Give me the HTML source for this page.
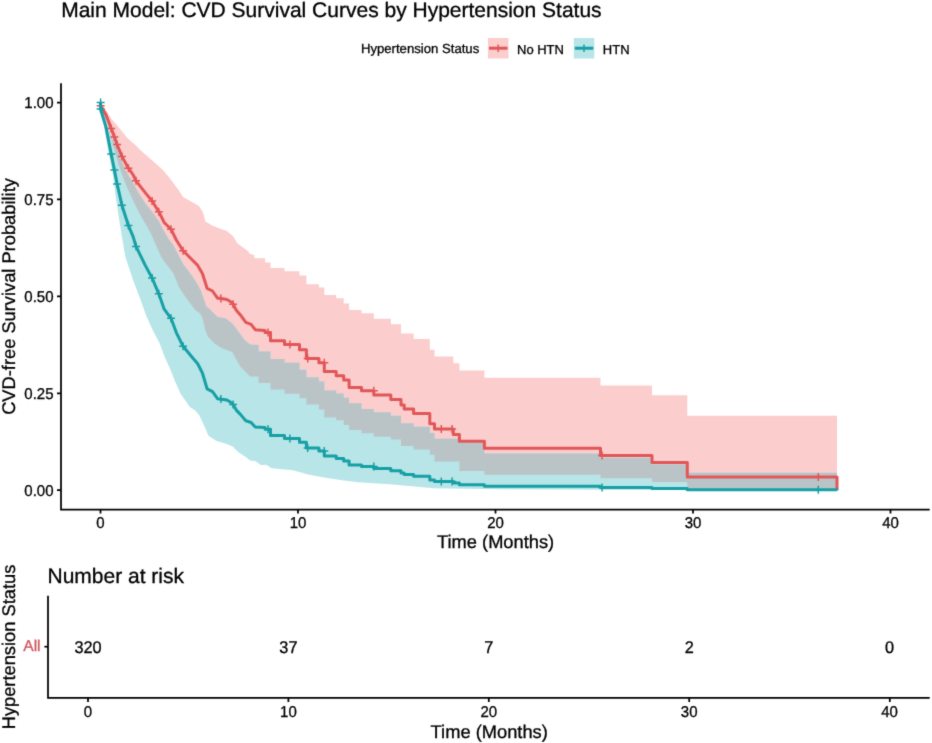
<!DOCTYPE html>
<html><head><meta charset="utf-8">
<style>
html,body{margin:0;padding:0;background:#fff;}
svg{display:block;font-family:"Liberation Sans",sans-serif;text-rendering:geometricPrecision;}
text{stroke-width:0.30px;}
</style></head>
<body>
<svg width="932" height="743" viewBox="0 0 932 743">
<defs><filter id="soft" filterUnits="userSpaceOnUse" x="0" y="0" width="932" height="743" color-interpolation-filters="sRGB"><feConvolveMatrix order="3" kernelMatrix="0.02 0.08 0.02 0.08 0.6 0.08 0.02 0.08 0.02" edgeMode="duplicate"/></filter></defs>
<rect width="932" height="743" fill="#fff"/>
<g filter="url(#soft)">
<text transform="translate(61.20 17.20)" font-size="21.00" fill="#000" stroke="#000">Main Model: CVD Survival Curves by Hypertension Status</text>
<text transform="translate(360.90 53.40)" font-size="13.15" fill="#000" stroke="#000">Hypertension Status</text>
<rect x="488" y="38" width="20.5" height="20.5" fill="rgb(251,205,205)"/>
<path d="M489 48.2H507.5" stroke="rgb(226,86,88)" stroke-width="3" fill="none"/><path d="M498.2 44.4V52" stroke="rgb(226,86,88)" stroke-width="1.5" fill="none"/>
<text transform="translate(517.00 53.50)" font-size="13.00" fill="#000" stroke="#000">No HTN</text>
<rect x="573.8" y="38" width="20.5" height="20.5" fill="rgb(184,229,232)"/>
<path d="M574.8 48.2H593.3" stroke="rgb(22,160,165)" stroke-width="3" fill="none"/><path d="M584 44.4V52" stroke="rgb(22,160,165)" stroke-width="1.5" fill="none"/>
<text transform="translate(602.80 53.50)" font-size="13.00" fill="#000" stroke="#000">HTN</text>
<g id="curves">
<defs><clipPath id="rb"><path d="M100.5 102.5L105.8 110.1L112.2 119.8L118.7 127.3L127.3 138.1L134.8 144.5L141.3 151.0L148.8 157.4L157.4 165.0L162.9 170.0L169.6 178.1L177.7 188.8L183.1 196.9L192.5 202.3L199.2 206.3L203.2 213.1L205.4 221.5L212.1 225.6L218.8 228.3L226.9 231.0L233.3 236.5L237.3 243.3L248.1 251.3L250.0 254.0L254.3 255.1L254.3 258.3L264.6 258.3L265.1 258.3L265.1 262.6L270.5 262.6L270.5 268.0L284.5 268.0L284.5 271.2L299.5 271.2L299.5 275.5L306.4 275.5L306.4 284.2L318.9 284.2L318.9 287.4L324.3 287.4L324.3 294.9L336.2 294.9L336.2 298.2L343.7 298.2L343.7 303.5L349.1 303.5L349.1 310.0L361.5 310.0L361.5 313.2L373.8 313.2L373.8 318.8L390.8 318.8L390.8 324.2L401.0 324.2L401.0 333.6L404.2 333.6L404.2 333.6L413.6 333.6L413.6 339.0L429.8 339.0L429.8 349.8L434.5 349.8L434.5 356.5L453.3 356.5L453.3 363.2L459.4 363.2L459.4 370.5L484.4 370.5L484.4 377.8L600.5 377.8L600.5 385.6L652.0 385.6L652.0 395.2L687.3 395.2L687.3 415.7L837.0 415.7L837.0 490.0L687.3 490.0L687.3 482.0L652.0 482.0L652.0 478.3L600.5 478.3L600.5 474.7L484.4 474.7L484.4 470.9L459.4 470.9L459.4 461.4L453.3 461.4L453.3 461.4L434.5 461.4L434.5 454.7L429.8 454.7L429.8 449.5L413.6 449.5L413.6 446.0L404.2 446.0L404.2 446.0L401.0 446.0L401.0 439.5L390.8 439.5L390.8 436.8L373.8 436.8L373.8 433.2L361.5 433.2L361.5 430.0L349.1 430.0L349.1 425.0L343.7 425.0L343.7 420.3L336.2 420.3L336.2 417.5L324.3 417.5L324.3 409.5L318.9 409.5L318.9 404.6L306.4 404.6L306.4 398.2L299.5 398.2L299.5 393.8L284.5 393.8L284.5 389.5L270.5 389.5L270.5 383.1L265.1 383.1L265.1 383.1L264.6 383.1L258.6 383.1L258.6 376.6L250.0 376.6L245.8 372.1L240.4 366.7L235.0 357.3L232.3 351.9L221.5 347.9L214.8 343.8L208.1 337.1L205.4 330.4L202.5 318.0L200.0 313.5L195.0 309.8L186.9 299.0L178.8 286.9L173.5 273.5L165.4 263.0L161.5 257.5L156.1 245.4L150.8 233.3L145.4 223.8L140.0 214.4L133.3 201.0L126.5 186.2L121.0 172.0L118.1 163.0L114.9 151.0L110.0 135.0L105.8 119.5L100.6 107.0L100.5 102.5Z"/></clipPath></defs>
<path d="M100.5 102.5L105.8 110.1L112.2 119.8L118.7 127.3L127.3 138.1L134.8 144.5L141.3 151.0L148.8 157.4L157.4 165.0L162.9 170.0L169.6 178.1L177.7 188.8L183.1 196.9L192.5 202.3L199.2 206.3L203.2 213.1L205.4 221.5L212.1 225.6L218.8 228.3L226.9 231.0L233.3 236.5L237.3 243.3L248.1 251.3L250.0 254.0L254.3 255.1L254.3 258.3L264.6 258.3L265.1 258.3L265.1 262.6L270.5 262.6L270.5 268.0L284.5 268.0L284.5 271.2L299.5 271.2L299.5 275.5L306.4 275.5L306.4 284.2L318.9 284.2L318.9 287.4L324.3 287.4L324.3 294.9L336.2 294.9L336.2 298.2L343.7 298.2L343.7 303.5L349.1 303.5L349.1 310.0L361.5 310.0L361.5 313.2L373.8 313.2L373.8 318.8L390.8 318.8L390.8 324.2L401.0 324.2L401.0 333.6L404.2 333.6L404.2 333.6L413.6 333.6L413.6 339.0L429.8 339.0L429.8 349.8L434.5 349.8L434.5 356.5L453.3 356.5L453.3 363.2L459.4 363.2L459.4 370.5L484.4 370.5L484.4 377.8L600.5 377.8L600.5 385.6L652.0 385.6L652.0 395.2L687.3 395.2L687.3 415.7L837.0 415.7L837.0 490.0L687.3 490.0L687.3 482.0L652.0 482.0L652.0 478.3L600.5 478.3L600.5 474.7L484.4 474.7L484.4 470.9L459.4 470.9L459.4 461.4L453.3 461.4L453.3 461.4L434.5 461.4L434.5 454.7L429.8 454.7L429.8 449.5L413.6 449.5L413.6 446.0L404.2 446.0L404.2 446.0L401.0 446.0L401.0 439.5L390.8 439.5L390.8 436.8L373.8 436.8L373.8 433.2L361.5 433.2L361.5 430.0L349.1 430.0L349.1 425.0L343.7 425.0L343.7 420.3L336.2 420.3L336.2 417.5L324.3 417.5L324.3 409.5L318.9 409.5L318.9 404.6L306.4 404.6L306.4 398.2L299.5 398.2L299.5 393.8L284.5 393.8L284.5 389.5L270.5 389.5L270.5 383.1L265.1 383.1L265.1 383.1L264.6 383.1L258.6 383.1L258.6 376.6L250.0 376.6L245.8 372.1L240.4 366.7L235.0 357.3L232.3 351.9L221.5 347.9L214.8 343.8L208.1 337.1L205.4 330.4L202.5 318.0L200.0 313.5L195.0 309.8L186.9 299.0L178.8 286.9L173.5 273.5L165.4 263.0L161.5 257.5L156.1 245.4L150.8 233.3L145.4 223.8L140.0 214.4L133.3 201.0L126.5 186.2L121.0 172.0L118.1 163.0L114.9 151.0L110.0 135.0L105.8 119.5L100.6 107.0L100.5 102.5Z" fill="rgb(251,205,205)"/>
<path d="M100.5 102.5L104.2 111.0L107.9 127.3L111.2 137.0L116.0 145.6L120.8 159.6L126.5 172.0L131.9 180.8L138.6 192.9L145.4 203.6L152.1 211.7L158.8 221.1L162.9 229.2L168.3 238.6L173.6 245.4L179.0 256.1L183.1 264.0L188.3 270.8L195.0 280.2L200.4 289.6L204.4 300.4L206.1 306.2L209.4 308.8L213.5 312.9L217.5 316.9L225.6 318.3L232.3 323.6L237.7 330.4L244.4 339.8L250.0 344.5L258.6 345.0L258.6 351.5L264.6 351.5L265.1 351.5L265.1 351.5L270.5 351.5L270.5 359.0L284.5 359.0L284.5 362.7L299.5 362.7L299.5 369.7L306.4 369.7L306.4 377.2L318.9 377.2L318.9 381.5L324.3 381.5L324.3 390.4L336.2 390.4L336.2 393.6L343.7 393.6L343.7 397.8L349.1 397.8L349.1 403.3L361.5 403.3L361.5 409.0L373.8 409.0L373.8 412.3L390.8 412.3L390.8 415.7L401.0 415.7L401.0 423.2L404.2 423.2L404.2 423.2L413.6 423.2L413.6 426.8L429.8 426.8L429.8 433.0L434.5 433.0L434.5 438.8L453.3 438.8L453.3 438.8L459.4 438.8L459.4 442.6L484.4 442.6L484.4 453.6L600.5 453.6L600.5 457.7L652.0 457.7L652.0 464.6L687.3 464.6L687.3 472.7L837.0 472.7L837.0 490.1L600.0 489.8L500.0 489.3L433.8 488.3L390.0 484.3L357.7 482.2L340.5 480.0L325.4 477.8L308.2 474.6L293.0 470.3L271.5 468.2L266.3 464.7L260.8 464.9L255.6 461.3L250.0 460.6L246.1 457.3L238.1 451.9L232.7 446.5L226.0 443.8L216.5 441.1L208.5 435.8L204.4 426.3L199.4 415.4L195.0 410.2L190.0 407.3L180.6 393.8L175.2 381.7L169.8 368.3L164.4 356.2L159.5 343.0L153.3 331.3L146.5 316.5L139.8 297.7L133.1 280.2L127.1 262.0L125.2 256.1L122.5 240.0L119.8 223.8L115.8 196.9L112.6 172.0L110.0 159.6L107.9 148.8L104.5 128.0L101.5 108.0L100.5 102.5Z" fill="rgb(184,229,232)"/>
<path d="M100.5 102.5L104.2 111.0L107.9 127.3L111.2 137.0L116.0 145.6L120.8 159.6L126.5 172.0L131.9 180.8L138.6 192.9L145.4 203.6L152.1 211.7L158.8 221.1L162.9 229.2L168.3 238.6L173.6 245.4L179.0 256.1L183.1 264.0L188.3 270.8L195.0 280.2L200.4 289.6L204.4 300.4L206.1 306.2L209.4 308.8L213.5 312.9L217.5 316.9L225.6 318.3L232.3 323.6L237.7 330.4L244.4 339.8L250.0 344.5L258.6 345.0L258.6 351.5L264.6 351.5L265.1 351.5L265.1 351.5L270.5 351.5L270.5 359.0L284.5 359.0L284.5 362.7L299.5 362.7L299.5 369.7L306.4 369.7L306.4 377.2L318.9 377.2L318.9 381.5L324.3 381.5L324.3 390.4L336.2 390.4L336.2 393.6L343.7 393.6L343.7 397.8L349.1 397.8L349.1 403.3L361.5 403.3L361.5 409.0L373.8 409.0L373.8 412.3L390.8 412.3L390.8 415.7L401.0 415.7L401.0 423.2L404.2 423.2L404.2 423.2L413.6 423.2L413.6 426.8L429.8 426.8L429.8 433.0L434.5 433.0L434.5 438.8L453.3 438.8L453.3 438.8L459.4 438.8L459.4 442.6L484.4 442.6L484.4 453.6L600.5 453.6L600.5 457.7L652.0 457.7L652.0 464.6L687.3 464.6L687.3 472.7L837.0 472.7L837.0 490.1L600.0 489.8L500.0 489.3L433.8 488.3L390.0 484.3L357.7 482.2L340.5 480.0L325.4 477.8L308.2 474.6L293.0 470.3L271.5 468.2L266.3 464.7L260.8 464.9L255.6 461.3L250.0 460.6L246.1 457.3L238.1 451.9L232.7 446.5L226.0 443.8L216.5 441.1L208.5 435.8L204.4 426.3L199.4 415.4L195.0 410.2L190.0 407.3L180.6 393.8L175.2 381.7L169.8 368.3L164.4 356.2L159.5 343.0L153.3 331.3L146.5 316.5L139.8 297.7L133.1 280.2L127.1 262.0L125.2 256.1L122.5 240.0L119.8 223.8L115.8 196.9L112.6 172.0L110.0 159.6L107.9 148.8L104.5 128.0L101.5 108.0L100.5 102.5Z" fill="rgb(186,196,199)" clip-path="url(#rb)"/>
<path d="M100.5 102.5L100.6 105.8L105.8 114.4L111.2 128.4L114.4 137.0L117.1 144.5L121.9 156.4L128.4 168.2L133.2 175.0L136.0 180.8L145.4 192.9L152.1 201.0L158.8 211.7L164.2 222.5L171.0 229.2L176.3 240.0L183.1 250.8L191.1 258.8L197.7 265.4L202.4 273.5L207.1 288.3L212.5 291.0L217.5 298.1L226.9 299.4L232.3 302.8L236.3 310.2L240.4 314.9L245.8 322.3L251.1 324.3L255.2 329.7L264.6 330.4L265.1 330.4L265.1 332.6L270.5 332.6L270.5 340.8L284.5 340.8L284.5 344.5L299.5 344.5L299.5 349.8L306.4 349.8L306.4 358.5L318.9 358.5L318.9 362.8L324.3 362.8L324.3 371.4L336.2 371.4L336.2 375.7L343.7 375.7L343.7 380.0L349.1 380.0L349.1 387.5L361.5 387.5L361.5 390.8L373.8 390.8L373.8 395.1L390.8 395.1L390.8 399.6L401.0 399.6L401.0 404.9L404.2 404.9L404.2 409.0L413.6 409.0L413.6 413.5L429.8 413.5L429.8 423.8L434.5 423.8L434.5 429.1L453.3 429.1L453.3 434.5L459.4 434.5L459.4 441.3L484.4 441.3L484.4 448.2L600.5 448.2L600.5 455.4L652.0 455.4L652.0 462.5L687.3 462.5L687.3 476.9L837.0 476.9L837.0 490.2" fill="none" stroke="rgb(226,86,88)" stroke-width="3.0" stroke-linejoin="round"/>
<path d="M107.2 128.4h8.0M111.2 124.4v8.0M110.4 137.0h8.0M114.4 133.0v8.0M113.1 144.5h8.0M117.1 140.5v8.0M117.9 156.4h8.0M121.9 152.4v8.0M124.4 168.2h8.0M128.4 164.2v8.0M132.0 180.8h8.0M136.0 176.8v8.0M148.1 201.0h8.0M152.1 197.0v8.0M154.8 211.7h8.0M158.8 207.7v8.0M167.0 229.2h8.0M171.0 225.2v8.0M179.1 250.8h8.0M183.1 246.8v8.0M216.9 298.6h8.0M220.9 294.6v8.0M229.1 304.3h8.0M233.1 300.3v8.0M264.0 332.6h8.0M268.0 328.6v8.0M285.9 344.5h8.0M289.9 340.5v8.0M303.7 358.5h8.0M307.7 354.5v8.0M320.3 362.8h8.0M324.3 358.8v8.0M369.8 390.8h8.0M373.8 386.8v8.0M437.3 429.1h8.0M441.3 425.1v8.0M448.1 429.1h8.0M452.1 425.1v8.0M598.1 455.4h8.0M602.1 451.4v8.0M814.3 476.9h8.0M818.3 472.9v8.0M96.6 105.8h8.0M100.6 101.8v8.0" fill="none" stroke="rgb(226,86,88)" stroke-width="1.5"/>
<path d="M100.5 102.5L100.6 109.3L105.8 126.6L111.2 153.9L114.4 170.1L117.1 183.9L121.9 205.2L128.4 225.5L133.2 236.9L136.0 246.4L145.4 265.6L152.1 278.0L158.8 293.8L164.2 309.2L171.0 318.3L176.3 332.6L183.1 346.3L191.1 356.0L197.7 363.8L202.4 373.0L207.1 388.8L212.5 391.6L217.5 398.7L226.9 400.0L232.3 403.2L236.3 410.1L240.4 414.4L245.8 420.8L251.1 422.5L255.2 427.0L264.6 427.5L265.1 427.5L265.1 429.3L270.5 429.3L270.5 435.6L284.5 435.6L284.5 438.4L299.5 438.4L299.5 442.2L306.4 442.2L306.4 448.1L318.9 448.1L318.9 450.9L324.3 450.9L324.3 456.1L336.2 456.1L336.2 458.6L343.7 458.6L343.7 461.0L349.1 461.0L349.1 464.9L361.5 464.9L361.5 466.6L373.8 466.6L373.8 468.6L390.8 468.6L390.8 470.7L401.0 470.7L401.0 473.0L404.2 473.0L404.2 474.6L413.6 474.6L413.6 476.3L429.8 476.3L429.8 479.9L434.5 479.9L434.5 481.5L453.3 481.5L453.3 483.0L459.4 483.0L459.4 484.7L484.4 484.7L484.4 486.2L600.5 486.2L600.5 487.5L652.0 487.5L652.0 488.5L687.3 488.5L687.3 489.8L837.0 489.8L837.0 490.2" fill="none" stroke="rgb(22,160,165)" stroke-width="3.0" stroke-linejoin="round"/>
<path d="M107.2 153.9h8.0M111.2 149.9v8.0M110.4 170.1h8.0M114.4 166.1v8.0M113.1 183.9h8.0M117.1 179.9v8.0M117.9 205.2h8.0M121.9 201.2v8.0M124.4 225.5h8.0M128.4 221.5v8.0M132.0 246.4h8.0M136.0 242.4v8.0M148.1 278.0h8.0M152.1 274.0v8.0M154.8 293.8h8.0M158.8 289.8v8.0M167.0 318.3h8.0M171.0 314.3v8.0M179.1 346.3h8.0M183.1 342.3v8.0M216.9 399.1h8.0M220.9 395.1v8.0M229.1 404.6h8.0M233.1 400.6v8.0M264.0 429.3h8.0M268.0 425.3v8.0M285.9 438.4h8.0M289.9 434.4v8.0M303.7 448.1h8.0M307.7 444.1v8.0M320.3 450.9h8.0M324.3 446.9v8.0M369.8 466.6h8.0M373.8 462.6v8.0M437.3 481.5h8.0M441.3 477.5v8.0M448.1 481.5h8.0M452.1 477.5v8.0M598.1 487.5h8.0M602.1 483.5v8.0M814.3 489.8h8.0M818.3 485.8v8.0M96.6 102.5h8.0M100.6 98.5v8.0M96.6 109.0h8.0M100.6 105.0v8.0" fill="none" stroke="rgb(22,160,165)" stroke-width="1.5"/>
</g>
<g stroke="#000" stroke-width="1.75" fill="none" stroke-linecap="butt">
<path d="M61 83.2V509.7H929.7"/>
<path d="M57 490.2H61M57 393.3H61M57 296.4H61M57 199.4H61M57 102.5H61"/>
<path d="M100.5 509.7V513.6M298 509.7V513.6M495.5 509.7V513.6M693 509.7V513.6M890.5 509.7V513.6"/>
</g>
<text transform="translate(53.50 107.90) scale(1 1.040)" font-size="15.00" fill="#000" stroke="#000" text-anchor="end">1.00</text>
<text transform="translate(53.50 204.80) scale(1 1.040)" font-size="15.00" fill="#000" stroke="#000" text-anchor="end">0.75</text>
<text transform="translate(53.50 301.80) scale(1 1.040)" font-size="15.00" fill="#000" stroke="#000" text-anchor="end">0.50</text>
<text transform="translate(53.50 398.70) scale(1 1.040)" font-size="15.00" fill="#000" stroke="#000" text-anchor="end">0.25</text>
<text transform="translate(53.50 495.60) scale(1 1.040)" font-size="15.00" fill="#000" stroke="#000" text-anchor="end">0.00</text>
<text transform="translate(100.50 527.80) scale(1 1.040)" font-size="15.00" fill="#000" stroke="#000" text-anchor="middle">0</text>
<text transform="translate(298.00 527.80) scale(1 1.040)" font-size="15.00" fill="#000" stroke="#000" text-anchor="middle">10</text>
<text transform="translate(495.50 527.80) scale(1 1.040)" font-size="15.00" fill="#000" stroke="#000" text-anchor="middle">20</text>
<text transform="translate(693.00 527.80) scale(1 1.040)" font-size="15.00" fill="#000" stroke="#000" text-anchor="middle">30</text>
<text transform="translate(890.50 527.80) scale(1 1.040)" font-size="15.00" fill="#000" stroke="#000" text-anchor="middle">40</text>
<text transform="translate(495.60 548.30)" font-size="18.30" fill="#000" stroke="#000" text-anchor="middle">Time (Months)</text>
<text transform="translate(15.20 296.50) rotate(-90)" font-size="18.30" fill="#000" stroke="#000" text-anchor="middle">CVD-free Survival Probability</text>
<text transform="translate(47.50 582.70)" font-size="21.00" fill="#000" stroke="#000">Number at risk</text>
<g stroke="#000" stroke-width="1.75" fill="none">
<path d="M48 595.7V697.8H929.7"/>
<path d="M44.4 646.7H48"/>
<path d="M88 697.8V702M288.4 697.8V702M488.8 697.8V702M689.2 697.8V702M889.8 697.8V702"/>
</g>
<text transform="translate(40.60 651.00)" font-size="15.60" fill="rgb(208,88,94)" stroke="rgb(208,88,94)" text-anchor="end">All</text>
<text transform="translate(88.00 652.60) scale(1 1.040)" font-size="16.30" fill="#000" stroke="#000" text-anchor="middle">320</text>
<text transform="translate(288.40 652.60) scale(1 1.040)" font-size="16.30" fill="#000" stroke="#000" text-anchor="middle">37</text>
<text transform="translate(488.80 652.60) scale(1 1.040)" font-size="16.30" fill="#000" stroke="#000" text-anchor="middle">7</text>
<text transform="translate(689.20 652.60) scale(1 1.040)" font-size="16.30" fill="#000" stroke="#000" text-anchor="middle">2</text>
<text transform="translate(889.60 652.60) scale(1 1.040)" font-size="16.30" fill="#000" stroke="#000" text-anchor="middle">0</text>
<text transform="translate(88.00 716.50) scale(1 1.040)" font-size="15.00" fill="#000" stroke="#000" text-anchor="middle">0</text>
<text transform="translate(288.40 716.50) scale(1 1.040)" font-size="15.00" fill="#000" stroke="#000" text-anchor="middle">10</text>
<text transform="translate(488.80 716.50) scale(1 1.040)" font-size="15.00" fill="#000" stroke="#000" text-anchor="middle">20</text>
<text transform="translate(689.20 716.50) scale(1 1.040)" font-size="15.00" fill="#000" stroke="#000" text-anchor="middle">30</text>
<text transform="translate(889.60 716.50) scale(1 1.040)" font-size="15.00" fill="#000" stroke="#000" text-anchor="middle">40</text>
<text transform="translate(489.20 738.40)" font-size="18.30" fill="#000" stroke="#000" text-anchor="middle">Time (Months)</text>
<text transform="translate(15.30 647.00) rotate(-90)" font-size="18.30" fill="#000" stroke="#000" text-anchor="middle">Hypertension Status</text>
</g>
</svg>
</body></html>
